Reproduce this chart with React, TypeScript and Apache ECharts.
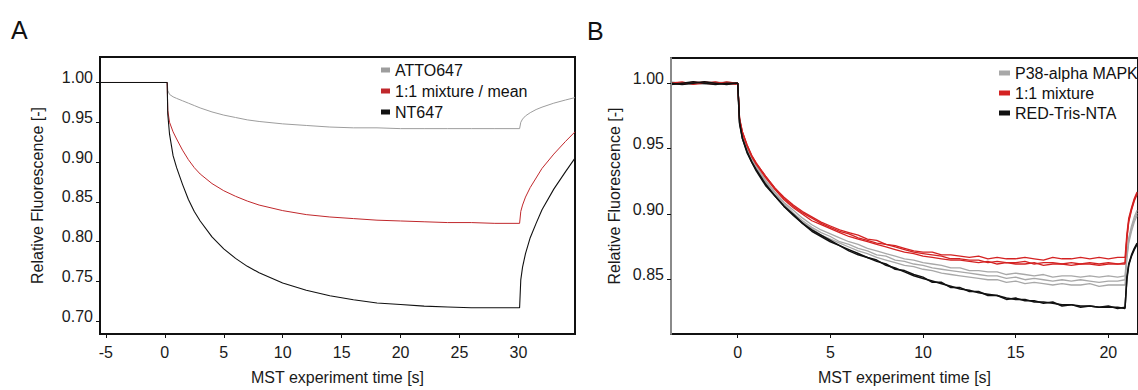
import { useEffect, useRef } from "react";
import * as echarts from "echarts";

const FONT = "'Liberation Sans', Arial, sans-serif";

// ---------- Panel A ----------
const tA = [-5.5, -4.5, -3.5, -2.5, -1.5, -0.5, 0.2, 0.25, 0.4, 0.7, 1, 1.5, 2, 2.5, 3, 4, 5, 6, 7, 8, 10, 12, 14, 16, 18, 20, 22, 24, 26, 28, 30.1, 30.2, 30.35, 30.6, 31, 31.5, 32, 33, 34, 34.8];
const attoA = [1.0, 1.0, 1.0, 1.0, 1.0, 1.0, 1.0,
  0.99, 0.985, 0.982, 0.98, 0.977, 0.974, 0.971, 0.968,
  0.963, 0.959, 0.956, 0.953, 0.951,
  0.948, 0.946, 0.944, 0.943, 0.943, 0.942, 0.942, 0.942, 0.942, 0.942,
  0.942, 0.95, 0.954, 0.958, 0.962, 0.966, 0.969, 0.974, 0.978, 0.981];
const mixA = [1.0, 1.0, 1.0, 1.0, 1.0, 1.0, 1.0,
  0.965, 0.95, 0.938, 0.929, 0.915, 0.903, 0.893, 0.885,
  0.873, 0.864, 0.857, 0.851, 0.846,
  0.839, 0.834, 0.831, 0.829, 0.827, 0.826, 0.825, 0.824, 0.824, 0.823,
  0.823, 0.838, 0.846, 0.856, 0.868, 0.88, 0.892, 0.91, 0.926, 0.938];
const ntA = [1.0, 1.0, 1.0, 1.0, 1.0, 1.0, 1.0,
  0.96, 0.935, 0.908, 0.893, 0.872, 0.853, 0.838, 0.826,
  0.806, 0.791, 0.779, 0.769, 0.761,
  0.748, 0.739, 0.732, 0.727, 0.723, 0.721, 0.719, 0.718, 0.717, 0.717,
  0.717, 0.752, 0.768, 0.785, 0.805, 0.823, 0.84, 0.866, 0.888, 0.905];
const xTicksA = [-5, 0, 5, 10, 15, 20, 25, 30];
const yTicksA = [0.7, 0.75, 0.8, 0.85, 0.9, 0.95, 1.0];

// ---------- Panel B ----------
const tB = [-3.6, -3.0, -2.4, -1.8, -1.2, -0.6, -0.1,
  0, 0.1, 0.25, 0.5, 0.75, 1,
  1.5, 2, 2.5, 3, 3.5,
  4, 4.5, 5, 5.5, 6, 6.5, 7, 7.5, 8, 8.5,
  9, 9.5, 10, 10.5, 11, 11.5, 12, 12.5, 13, 13.5,
  14, 14.5, 15, 15.5, 16, 16.5, 17, 17.5, 18, 18.5,
  19, 19.5, 20, 20.5,
  20.9,
  21.0, 21.1, 21.25, 21.4, 21.55];
const p38B1 = [1.0, 1.0, 0.999, 1.001, 1.0, 0.999, 1.0,
  1.0, 0.971, 0.961, 0.951, 0.943, 0.937,
  0.926, 0.917, 0.909, 0.903, 0.897,
  0.892, 0.888, 0.885, 0.882, 0.879, 0.877, 0.874, 0.872, 0.87, 0.868,
  0.866, 0.865, 0.863, 0.862, 0.861, 0.859, 0.859, 0.857, 0.857, 0.856,
  0.856, 0.854, 0.855, 0.854, 0.853, 0.854, 0.852, 0.853, 0.853, 0.852,
  0.853, 0.852, 0.853, 0.852,
  0.853,
  0.87, 0.882, 0.891, 0.898, 0.903];
const p38B2 = [1.001, 1.0, 1.0, 0.999, 1.0, 1.001, 1.0,
  1.0, 0.971, 0.96, 0.95, 0.942, 0.936,
  0.925, 0.916, 0.908, 0.901, 0.895,
  0.89, 0.886, 0.883, 0.879, 0.877, 0.874, 0.872, 0.869, 0.868, 0.865,
  0.864, 0.862, 0.861, 0.859, 0.858, 0.857, 0.856, 0.855, 0.854, 0.853,
  0.853, 0.851, 0.852, 0.85, 0.851, 0.85, 0.849, 0.85, 0.849, 0.85,
  0.849, 0.848, 0.849, 0.849,
  0.85,
  0.868, 0.88, 0.889, 0.896, 0.901];
const p38B3 = [1.0, 0.999, 1.0, 1.0, 1.001, 1.0, 0.999,
  1.0, 0.97, 0.959, 0.949, 0.941, 0.935,
  0.924, 0.915, 0.907, 0.9, 0.894,
  0.889, 0.884, 0.881, 0.878, 0.875, 0.872, 0.87, 0.867, 0.865, 0.863,
  0.861, 0.86, 0.858, 0.857, 0.855, 0.854, 0.853, 0.852, 0.851, 0.85,
  0.85, 0.848, 0.849, 0.847, 0.848, 0.847, 0.846, 0.847, 0.846, 0.846,
  0.847, 0.845, 0.846, 0.846,
  0.846,
  0.866, 0.878, 0.887, 0.894, 0.899];
const mixB1 = [1.0, 0.999, 1.001, 1.0, 0.999, 1.001, 1.0,
  1.0, 0.973, 0.963, 0.953, 0.945, 0.939,
  0.929, 0.92, 0.913, 0.907, 0.902,
  0.898, 0.894, 0.891, 0.888, 0.886, 0.884, 0.881, 0.88, 0.877, 0.876,
  0.874, 0.872, 0.871, 0.871, 0.869, 0.869, 0.868, 0.867, 0.868, 0.866,
  0.867, 0.866, 0.866, 0.867, 0.866, 0.865, 0.867, 0.866, 0.866, 0.867,
  0.866, 0.867, 0.866, 0.867,
  0.867,
  0.885, 0.897, 0.905, 0.912, 0.917];
const mixB2 = [1.0, 1.001, 0.999, 1.0, 1.001, 0.999, 1.0,
  1.0, 0.972, 0.962, 0.952, 0.944, 0.938,
  0.928, 0.919, 0.911, 0.905, 0.9,
  0.895, 0.892, 0.889, 0.886, 0.883, 0.881, 0.879, 0.877, 0.875, 0.873,
  0.871, 0.87, 0.868, 0.867, 0.866, 0.865, 0.865, 0.864, 0.863, 0.864,
  0.862, 0.863, 0.862, 0.862, 0.863, 0.861, 0.862, 0.862, 0.861, 0.862,
  0.862, 0.861, 0.862, 0.862,
  0.862,
  0.882, 0.895, 0.904, 0.911, 0.916];
const mixB3 = [0.999, 1.0, 1.0, 1.001, 1.0, 1.0, 0.999,
  1.0, 0.973, 0.963, 0.953, 0.945, 0.939,
  0.929, 0.92, 0.912, 0.906, 0.901,
  0.897, 0.893, 0.89, 0.887, 0.885, 0.882, 0.88, 0.878, 0.877, 0.875,
  0.873, 0.871, 0.87, 0.869, 0.868, 0.866, 0.866, 0.865, 0.865, 0.863,
  0.864, 0.863, 0.863, 0.864, 0.862, 0.863, 0.863, 0.862, 0.863, 0.862,
  0.863, 0.862, 0.863, 0.862,
  0.863,
  0.881, 0.894, 0.903, 0.91, 0.915];
const redB1 = [1.0, 0.999, 1.0, 1.001, 1.0, 0.999, 1.0,
  1.0, 0.97, 0.958, 0.948, 0.94, 0.934,
  0.923, 0.914, 0.906, 0.9, 0.893,
  0.888, 0.884, 0.88, 0.876, 0.873, 0.87, 0.867, 0.865, 0.861, 0.859,
  0.856, 0.853, 0.851, 0.849, 0.847, 0.845, 0.843, 0.842, 0.84, 0.839,
  0.838, 0.836, 0.835, 0.835, 0.833, 0.833, 0.832, 0.831, 0.831, 0.83,
  0.83, 0.829, 0.829, 0.829,
  0.828,
  0.852, 0.862, 0.869, 0.874, 0.878];
const redB2 = [0.999, 1.0, 1.001, 1.0, 0.999, 1.0, 1.0,
  1.0, 0.969, 0.958, 0.947, 0.94, 0.933,
  0.922, 0.914, 0.906, 0.899, 0.893,
  0.887, 0.883, 0.879, 0.876, 0.872, 0.869, 0.867, 0.864, 0.862, 0.858,
  0.857, 0.854, 0.852, 0.848, 0.848, 0.844, 0.844, 0.841, 0.841, 0.838,
  0.838, 0.835, 0.836, 0.834, 0.834, 0.832, 0.833, 0.83, 0.831, 0.829,
  0.83, 0.829, 0.83, 0.828,
  0.829,
  0.85, 0.861, 0.868, 0.873, 0.877];
const xTicksB = [0, 5, 10, 15, 20];
const yTicksB = [0.85, 0.9, 0.95, 1.0];

const pairs = (t: number[], v: number[]) => t.map((x, i) => [x, v[i]]);

const GRAY_A = "#9d9d9d";
const RED_A = "#c0282c";
const BLACK = "#111111";
const GRAY_B = "#a8a8a8";
const RED_B = "#d42222";

const tickText = { fontSize: 16, color: "#1a1a1a", fontFamily: FONT };
const nameText = { fontSize: 16, color: "#1a1a1a", fontFamily: FONT };

function xAxisCfg(grid: number, min: number, max: number, ticks: number[]) {
  return {
    gridIndex: grid,
    type: "value",
    min,
    max,
    axisLine: { show: true, onZero: false, lineStyle: { color: "#111", width: 2 } },
    axisTick: { show: true, length: 4, customValues: ticks, lineStyle: { color: "#111", width: 1 } },
    axisLabel: { ...tickText, margin: 10, customValues: ticks, formatter: (v: number) => String(v) },
    splitLine: { show: false },
    name: "MST experiment time [s]",
    nameLocation: "middle",
    nameGap: 35,
    nameTextStyle: nameText,
  };
}

function yAxisCfg(grid: number, min: number, max: number, ticks: number[], lineColor: string, gap: number) {
  return {
    gridIndex: grid,
    type: "value",
    min,
    max,
    z: 5,
    axisLine: { show: true, onZero: false, lineStyle: { color: lineColor, width: 2 } },
    axisTick: { show: true, length: 4, customValues: ticks, lineStyle: { color: "#111", width: 1 } },
    axisLabel: {
      ...tickText,
      margin: 7,
      customValues: ticks,
      verticalAlign: "bottom",
      lineHeight: 10,
      formatter: (v: number) => v.toFixed(2),
    },
    splitLine: { show: false },
    name: "Relative Fluorescence [-]",
    nameLocation: "middle",
    nameGap: gap,
    nameTextStyle: nameText,
  };
}

function line(name: string, grid: number, t: number[], v: number[], color: string, width: number) {
  return {
    type: "line",
    name,
    xAxisIndex: grid,
    yAxisIndex: grid,
    data: pairs(t, v),
    showSymbol: false,
    symbol: "none",
    lineStyle: { color, width },
    itemStyle: { color },
    emphasis: { disabled: true },
  };
}

const legendText = { fontSize: 16, color: "#111", fontFamily: FONT };

export default function App() {
  const ref = useRef<HTMLDivElement>(null);
  useEffect(() => {
    const chart = echarts.init(ref.current!, null, { renderer: "svg" });
    chart.setOption({
      animation: false,
      backgroundColor: "#ffffff",
      textStyle: { fontFamily: FONT },
      title: [
        { text: "A", left: 11, top: 17, padding: 0, textStyle: { fontSize: 25, fontWeight: "normal", color: "#111", fontFamily: FONT } },
        { text: "B", left: 587, top: 18, padding: 0, textStyle: { fontSize: 25, fontWeight: "normal", color: "#111", fontFamily: FONT } },
      ],
      grid: [
        { left: 100, top: 57, width: 475, height: 286, show: true, borderColor: "#111", borderWidth: 2, backgroundColor: "transparent" },
        { left: 671, top: 58, width: 469, height: 285, show: true, borderColor: "#111", borderWidth: 2, backgroundColor: "transparent" },
      ],
      xAxis: [xAxisCfg(0, -5.5, 34.8, xTicksA), xAxisCfg(1, -3.6, 21.6, xTicksB)],
      yAxis: [
        yAxisCfg(0, 0.684, 1.032, yTicksA, "#111", 55),
        yAxisCfg(1, 0.8086, 1.0192, yTicksB, "#8a8a8a", 49),
      ],
      legend: [
        {
          data: ["ATTO647", "1:1 mixture / mean", "NT647"],
          orient: "vertical",
          left: 381,
          top: 62,
          itemGap: 5,
          itemWidth: 9,
          itemHeight: 5,
          icon: "rect",
          padding: 0,
          selectedMode: false,
          textStyle: legendText,
        },
        {
          data: ["P38-alpha MAPK", "1:1 mixture", "RED-Tris-NTA"],
          orient: "vertical",
          left: 999,
          top: 65,
          itemGap: 4,
          itemWidth: 11,
          itemHeight: 5,
          icon: "rect",
          padding: 0,
          selectedMode: false,
          textStyle: legendText,
        },
      ],
      series: [
        line("ATTO647", 0, tA, attoA, GRAY_A, 1),
        line("1:1 mixture / mean", 0, tA, mixA, RED_A, 1),
        line("NT647", 0, tA, ntA, BLACK, 1.1),
        line("P38-alpha MAPK", 1, tB, p38B1, GRAY_B, 1.3),
        line("P38-alpha MAPK", 1, tB, p38B2, GRAY_B, 1.3),
        line("P38-alpha MAPK", 1, tB, p38B3, GRAY_B, 1.3),
        line("1:1 mixture", 1, tB, mixB1, RED_B, 1.3),
        line("1:1 mixture", 1, tB, mixB2, RED_B, 1.3),
        line("1:1 mixture", 1, tB, mixB3, RED_B, 1.3),
        line("RED-Tris-NTA", 1, tB, redB1, BLACK, 1.5),
        line("RED-Tris-NTA", 1, tB, redB2, BLACK, 1.5),
      ],
    });
    return () => chart.dispose();
  }, []);
  return (
    <div
      ref={ref}
      style={{ position: "fixed", left: 0, top: 0, width: 1138, height: 390, background: "#fff" }}
    />
  );
}
